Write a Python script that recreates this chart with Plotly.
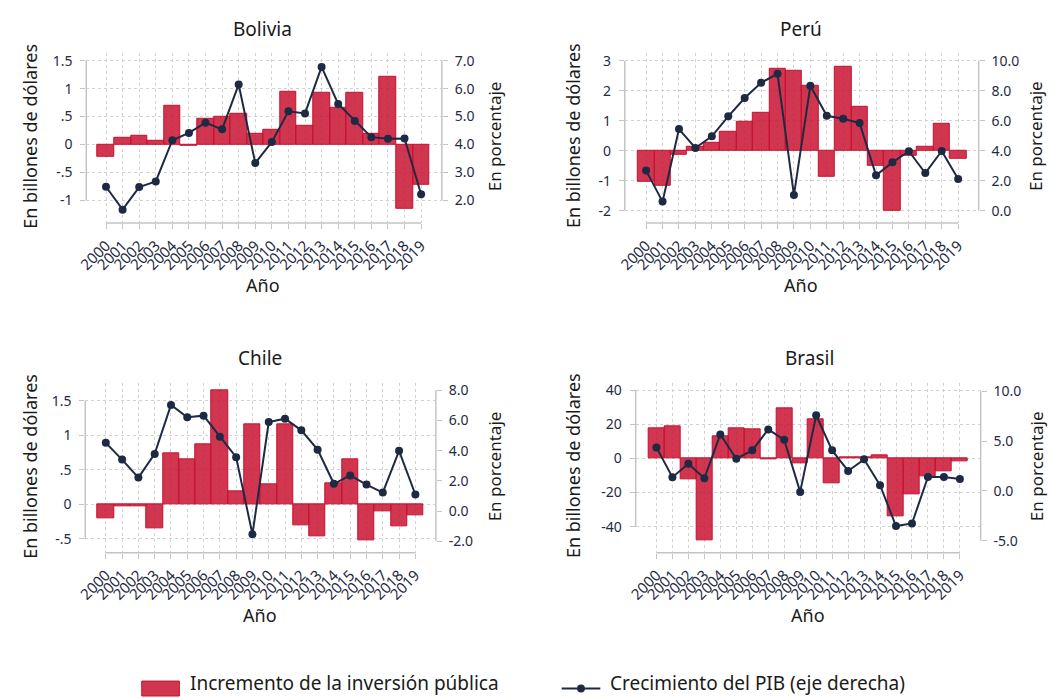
import plotly.graph_objects as go

W, H = 1049, 698

years = list(range(2000, 2020))

# Incremento de la inversión pública (eje izquierdo, billones de dólares)
bol_inv = [-0.23, 0.11, 0.15, 0.065, 0.69, -0.02, 0.46, 0.49, 0.55, 0.19,
           0.27, 0.94, 0.33, 0.92, 0.65, 0.92, 0.19, 1.22, -1.16, -0.72]
per_inv = [-1.05, -1.17, -0.13, 0.13, 0.25, 0.62, 0.98, 1.28, 2.74, 2.67,
           2.17, -0.87, 2.80, 1.47, -0.52, -2.00, -0.17, 0.13, 0.91, -0.26]
chl_inv = [-0.20, -0.03, -0.035, -0.35, 0.735, 0.654, 0.86, 1.65, 0.18, 1.15,
           0.29, 1.16, -0.30, -0.47, 0.30, 0.654, -0.52, -0.10, -0.32, -0.16]
bra_inv = [17.3, 18.7, -12.3, -48.2, 12.6, 17.5, 17.1, -0.8, 29.0, -2.9,
           22.6, -14.6, 0.8, 0.3, 1.9, -34.2, -21.0, -10.7, -7.4, -1.6]

# Crecimiento del PIB (eje derecho, porcentaje)
bol_gdp = [2.48, 1.66, 2.47, 2.67, 4.15, 4.41, 4.78, 4.54, 6.15, 3.33,
           4.09, 5.19, 5.11, 6.78, 5.45, 4.84, 4.26, 4.20, 4.21, 2.21]
per_gdp = [2.67, 0.60, 5.44, 4.18, 4.96, 6.29, 7.51, 8.53, 9.13, 1.04,
           8.33, 6.33, 6.13, 5.84, 2.36, 3.22, 3.96, 2.51, 3.98, 2.11]
chl_gdp = [4.52, 3.41, 2.22, 3.79, 7.03, 6.21, 6.32, 4.93, 3.57, -1.54,
           5.90, 6.12, 5.35, 4.07, 1.81, 2.36, 1.76, 1.23, 3.99, 1.10]
bra_gdp = [4.37, 1.37, 2.73, 1.27, 5.67, 3.23, 4.07, 6.17, 5.13, -0.10,
           7.60, 4.07, 2.00, 3.17, 0.57, -3.53, -3.27, 1.40, 1.40, 1.20]

# Tick labels
bol_lt, bol_ltx = [-1, -0.5, 0, 0.5, 1, 1.5], ["-1", "-.5", "0", ".5", "1", "1.5"]
bol_rt, bol_rtx = [2, 3, 4, 5, 6, 7], ["2.0", "3.0", "4.0", "5.0", "6.0", "7.0"]
per_lt, per_ltx = [-2, -1, 0, 1, 2, 3], ["-2", "-1", "0", "1", "2", "3"]
per_rt, per_rtx = [0, 2, 4, 6, 8, 10], ["0.0", "2.0", "4.0", "6.0", "8.0", "10.0"]
chl_lt, chl_ltx = [-0.5, 0, 0.5, 1, 1.5], ["-.5", "0", ".5", "1", "1.5"]
chl_rt, chl_rtx = [-2, 0, 2, 4, 6, 8], ["-2.0", "0.0", "2.0", "4.0", "6.0", "8.0"]
bra_lt, bra_ltx = [-40, -20, 0, 20, 40], ["-40", "-20", "0", "20", "40"]
bra_rt, bra_rtx = [-5, 0, 5, 10], ["-5.0", "0.0", "5.0", "10.0"]

BAR_FILL = "rgba(200,16,46,0.84)"
BAR_LINE = "#C8102E"
LINE_COL = "#1E2A44"
AXIS_COL = "#C4C4C4"
GRID_COL = "#D2D2D2"
TICK_COL = "#1F2B45"
TXT_COL = "#1A1A1A"
FONT = "Noto Sans"

def px_x(p):
    return p / W

def px_y(p):
    return 1 - p / H

panels = [
    dict(name="Bolivia", inv=bol_inv, gdp=bol_gdp, lt=bol_lt, ltx=bol_ltx, rt=bol_rt, rtx=bol_rtx,
         xd=(77, 436), yd=(50, 221), xr=(1998.81, 2020.25), yl=(-1.411, 1.643), yr=(1.179, 7.286),
         title=(255, 26), xtitle=(255, 283), ltitle=20, rtitle=490),
    dict(name="Perú", inv=per_inv, gdp=per_gdp, lt=per_lt, ltx=per_ltx, rt=per_rt, rtx=per_rtx,
         xd=(620.7, 978), yd=(50, 221), xr=(1998.70, 2020.25), yl=(-2.415, 3.266), yr=(-0.83, 10.53),
         title=(799, 26), xtitle=(799, 283), ltitle=568.5, rtitle=1036),
    dict(name="Chile", inv=chl_inv, gdp=chl_gdp, lt=chl_lt, ltx=chl_ltx, rt=chl_rt, rtx=chl_rtx,
         xd=(76, 430), yd=(382, 552), xr=(1998.74, 2020.26), yl=(-0.70, 1.75), yr=(-2.75, 8.46),
         title=(252, 357), xtitle=(252, 615), ltitle=20, rtitle=489),
    dict(name="Brasil", inv=bra_inv, gdp=bra_gdp, lt=bra_lt, ltx=bra_ltx, rt=bra_rt, rtx=bra_rtx,
         xd=(631.7, 980), yd=(382, 552), xr=(1998.70, 2020.30), yl=(-55.2, 43.9), yr=(-6.2, 10.8),
         title=(807, 357), xtitle=(806, 615), ltitle=568.5, rtitle=1036),
]

fig = go.Figure()
layout = dict(
    width=W, height=H, margin=dict(l=0, r=0, t=0, b=0),
    paper_bgcolor="white", plot_bgcolor="white", showlegend=False,
    font=dict(family=FONT, color=TXT_COL), bargap=0,
)
shapes = []
annotations = []

def ax(prefix, n):
    return prefix if n == 1 else f"{prefix}{n}"

for i, p in enumerate(panels, start=1):
    xa, ya, ya2 = ax("x", i), ax("y", i), ax("y", i + 4)
    fig.add_trace(go.Bar(
        x=years, y=p["inv"], xaxis=xa, yaxis=ya, width=1,
        marker=dict(color=BAR_FILL, line=dict(color=BAR_LINE, width=1)),
        name="Incremento de la inversión pública"))
    fig.add_trace(go.Scatter(
        x=years, y=p["gdp"], xaxis=xa, yaxis=ya2, mode="lines+markers",
        line=dict(color=LINE_COL, width=2), marker=dict(color=LINE_COL, size=8),
        name="Crecimiento del PIB (eje derecha)"))

    xdom = [px_x(p["xd"][0]), px_x(p["xd"][1])]
    ydom = [px_y(p["yd"][1]), px_y(p["yd"][0])]
    layout[ax("xaxis", i)] = dict(
        domain=xdom, anchor=ya, range=list(p["xr"]), tickmode="array", tickvals=years,
        ticktext=[str(y) for y in years], tickangle=-45, ticks="outside", ticklen=5,
        tickcolor=AXIS_COL, showline=False, zeroline=False, showgrid=True,
        gridcolor=GRID_COL, griddash="dot", gridwidth=1, ticklabelstandoff=2,
        tickfont=dict(family=FONT, size=15, color=TICK_COL))
    layout[ax("yaxis", i)] = dict(
        domain=ydom, anchor=xa, range=list(p["yl"]), tickmode="array", tickvals=p["lt"],
        ticktext=p["ltx"], ticks="outside", ticklen=5, tickcolor=AXIS_COL, showline=False,
        zeroline=False, showgrid=True, gridcolor=GRID_COL, griddash="dot", gridwidth=1,
        ticklabelstandoff=5, tickfont=dict(family=FONT, size=14, color=TICK_COL))
    layout[ax("yaxis", i + 4)] = dict(
        domain=ydom, anchor=xa, overlaying=ya, side="right", range=list(p["yr"]),
        tickmode="array", tickvals=p["rt"], ticktext=p["rtx"], ticks="outside", ticklen=5,
        tickcolor=AXIS_COL, showline=False, zeroline=False, showgrid=False,
        ticklabelstandoff=4, tickfont=dict(family=FONT, size=14, color=TICK_COL))

    # axis lines spanning the tick ranges
    shapes.append(dict(type="line", xref=xa, yref=f"{ya} domain", x0=years[0], x1=years[-1],
                       y0=0, y1=0, line=dict(color=AXIS_COL, width=1.5)))
    shapes.append(dict(type="line", xref=f"{xa} domain", yref=ya, x0=0, x1=0,
                       y0=min(p["lt"]), y1=max(p["lt"]), line=dict(color=AXIS_COL, width=1.5)))
    shapes.append(dict(type="line", xref=f"{xa} domain", yref=ya2, x0=1, x1=1,
                       y0=min(p["rt"]), y1=max(p["rt"]), line=dict(color=AXIS_COL, width=1.5)))

    yc = (p["yd"][0] + p["yd"][1]) / 2 - 2
    annotations += [
        dict(text=p["name"], xref="paper", yref="paper", x=px_x(p["title"][0]), y=px_y(p["title"][1]),
             showarrow=False, xanchor="center", yanchor="middle", font=dict(size=19, color=TXT_COL)),
        dict(text="Año", xref="paper", yref="paper", x=px_x(p["xtitle"][0]), y=px_y(p["xtitle"][1]),
             showarrow=False, xanchor="center", yanchor="middle", font=dict(size=18, color=TXT_COL)),
        dict(text="En billones de dólares", xref="paper", yref="paper", x=px_x(p["ltitle"]),
             y=px_y(yc), textangle=-90, showarrow=False, xanchor="center", yanchor="middle",
             font=dict(size=18, color=TXT_COL)),
        dict(text="En porcentaje", xref="paper", yref="paper", x=px_x(p["rtitle"]),
             y=px_y(yc), textangle=-90, showarrow=False, xanchor="center", yanchor="middle",
             font=dict(size=17, color=TXT_COL)),
    ]

# custom legend
LEG_FONT = "Noto Sans"
shapes.append(dict(type="rect", xref="paper", yref="paper", x0=px_x(133), x1=px_x(171),
                   y0=px_y(696), y1=px_y(681), fillcolor=BAR_FILL, line=dict(color=BAR_LINE, width=1)))
shapes.append(dict(type="line", xref="paper", yref="paper", x0=px_x(557), x1=px_x(596),
                   y0=px_y(688.5), y1=px_y(688.5), line=dict(color=LINE_COL, width=2)))
shapes.append(dict(type="circle", xref="paper", yref="paper", x0=px_x(572.5), x1=px_x(580.5),
                   y0=px_y(692.5), y1=px_y(684.5), fillcolor=LINE_COL, line=dict(color=LINE_COL, width=0)))
annotations += [
    dict(text="Incremento de la inversión pública", xref="paper", yref="paper", x=px_x(180),
         y=px_y(683), showarrow=False, xanchor="left", yanchor="middle",
         font=dict(family=LEG_FONT, size=19, color=TXT_COL)),
    dict(text="Crecimiento del PIB (eje derecha)", xref="paper", yref="paper", x=px_x(604),
         y=px_y(683), showarrow=False, xanchor="left", yanchor="middle",
         font=dict(family=LEG_FONT, size=19, color=TXT_COL)),
]

layout["shapes"] = shapes
layout["annotations"] = annotations
fig.update_layout(**layout)
fig.write_html("out.html", config={"displayModeBar": False},
               post_script="document.body.style.margin='0px';document.body.style.overflow='hidden';")
